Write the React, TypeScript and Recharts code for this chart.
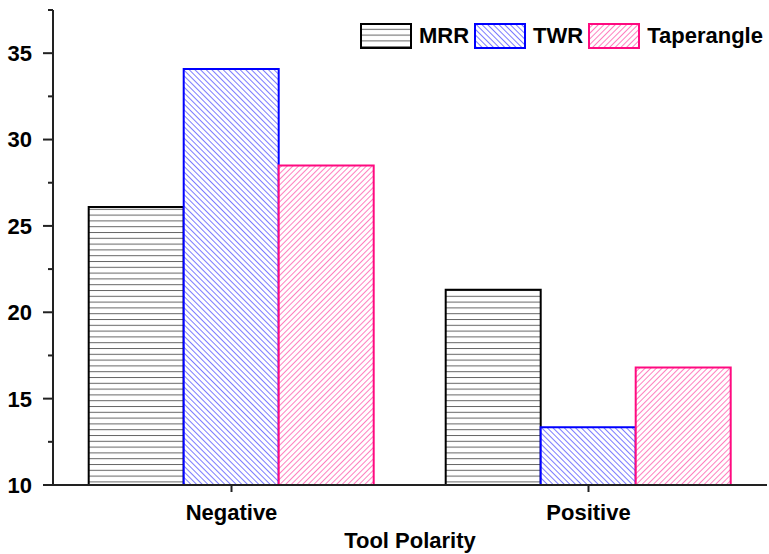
import { BarChart, Bar, XAxis, YAxis, Label } from 'recharts';

const categories = ['Negative', 'Positive'];
const mrr = [26.1, 21.3];
const twr = [34.08, 13.35];
const taperangle = [28.5, 16.8];
const yTicks = [10, 12.5, 15, 17.5, 20, 22.5, 25, 27.5, 30, 32.5, 35, 37.5];

const data = categories.map((name, i) => ({
  name,
  MRR: mrr[i],
  TWR: twr[i],
  Taperangle: taperangle[i]
}));

const FONT = '"Liberation Sans", Arial, sans-serif';
const FS = 22;
const Y_TICK = 10;
const Y_MARGIN = 11;

const series = [
  { key: 'MRR', stroke: '#000000', fill: 'url(#pat-mrr)' },
  { key: 'TWR', stroke: '#0000ff', fill: 'url(#pat-twr)' },
  { key: 'Taperangle', stroke: '#ff0a80', fill: 'url(#pat-taper)' }
];

const YTick = (props: any) => {
  const { x, y, payload } = props;
  const axisX = x + Y_TICK + Y_MARGIN;
  const major = payload.value % 5 === 0;
  return (
    <g>
      <line
        x1={axisX - (major ? Y_TICK : 5)}
        x2={axisX}
        y1={y}
        y2={y}
        stroke="#222"
        strokeWidth={2}
      />
      {major && (
        <text
          x={x}
          y={y}
          dy="0.36em"
          textAnchor="end"
          fontFamily={FONT}
          fontWeight="bold"
          fontSize={FS}
          fill="#000"
        >
          {payload.value}
        </text>
      )}
    </g>
  );
};

const Patterns = () => (
  <defs>
    <pattern id="pat-mrr" patternUnits="userSpaceOnUse" width={6} height={5.8}>
      <rect width={6} height={5.8} fill="#fff" />
      <line x1={0} x2={6} y1={0.5} y2={0.5} stroke="#666" strokeWidth={1} />
    </pattern>
    <pattern
      id="pat-twr"
      patternUnits="userSpaceOnUse"
      width={4}
      height={4}
      patternTransform="rotate(-45)"
    >
      <rect width={4} height={4} fill="#fff" />
      <line x1={0.5} x2={0.5} y1={0} y2={4} stroke="#7c7cff" strokeWidth={1} />
    </pattern>
    <pattern
      id="pat-taper"
      patternUnits="userSpaceOnUse"
      width={4}
      height={4}
      patternTransform="rotate(45)"
    >
      <rect width={4} height={4} fill="#fff" />
      <line x1={0.5} x2={0.5} y1={0} y2={4} stroke="#ff80bf" strokeWidth={1} />
    </pattern>
  </defs>
);

const LegendBox = () => (
  <div
    style={{
      position: 'absolute',
      top: 23,
      left: 360,
      display: 'flex',
      alignItems: 'center',
      fontFamily: FONT,
      fontWeight: 'bold',
      fontSize: FS,
      color: '#000'
    }}
  >
    {series.map((s) => (
      <div key={s.key} style={{ display: 'flex', alignItems: 'center', marginRight: 5 }}>
        <svg width={52} height={26} style={{ display: 'block' }}>
          <rect x={1} y={1} width={50} height={24} fill={s.fill} stroke={s.stroke} strokeWidth={2} />
        </svg>
        <span style={{ marginLeft: 7 }}>{s.key}</span>
      </div>
    ))}
  </div>
);

export default function App() {
  return (
    <div style={{ position: 'absolute', left: 0, top: 0, width: 769, height: 554, background: '#fff' }}>
      <BarChart
        width={769}
        height={554}
        data={data}
        margin={{ top: 10, right: 2, left: 0, bottom: 0 }}
        barCategoryGap="10%"
        barGap={0}
      >
        <Patterns />
        <XAxis
          dataKey="name"
          height={69}
          axisLine={{ stroke: '#222', strokeWidth: 2 }}
          tickLine={{ stroke: '#222', strokeWidth: 2 }}
          tickSize={7}
          tickMargin={12}
          tick={{ fontFamily: FONT, fontWeight: 'bold', fontSize: FS, fill: '#000' }}
        >
          <Label
            value="Tool Polarity"
            position="insideBottom"
            offset={6}
            style={{ fontFamily: FONT, fontWeight: 'bold', fontSize: FS, fill: '#000' }}
          />
        </XAxis>
        <YAxis
          width={53}
          domain={[10, 37.5]}
          ticks={yTicks}
          interval={0}
          allowDataOverflow
          axisLine={{ stroke: '#222', strokeWidth: 2 }}
          tickLine={false}
          tickSize={Y_TICK}
          tickMargin={Y_MARGIN}
          tick={<YTick />}
        />
        {series.map((s) => (
          <Bar
            key={s.key}
            dataKey={s.key}
            fill={s.fill}
            stroke={s.stroke}
            strokeWidth={2}
            isAnimationActive={false}
          />
        ))}
      </BarChart>
      <LegendBox />
    </div>
  );
}
